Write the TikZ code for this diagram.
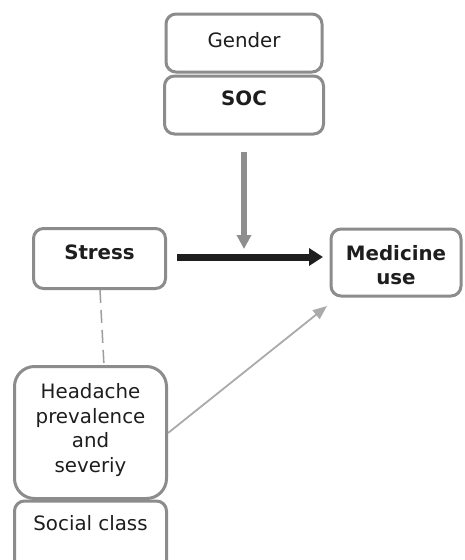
\documentclass[tikz,border=0pt]{standalone}
\usepackage{fontspec}
\setmainfont{DejaVu Sans}
\usetikzlibrary{arrows.meta}
\definecolor{boxgray}{HTML}{8C8C8C}
\definecolor{txt}{HTML}{1E1E1E}
\definecolor{arrgray}{HTML}{8E8E8E}
\definecolor{lightarr}{HTML}{AAAAAA}
\begin{document}
\begin{tikzpicture}[x=1pt,y=-1pt,
  box/.style={draw=boxgray,line width=3pt,rounded corners=10pt,minimum width=#1,inner sep=0pt},
  lbl/.style={text=txt,font=\fontsize{19.8}{24.5}\selectfont,align=center,inner sep=0pt},
  blbl/.style={lbl,font=\fontsize{19.8}{24.5}\selectfont\bfseries}]
\useasboundingbox (0,0) rectangle (464,560);
\clip (0,0) rectangle (464,560);
\fill[white] (0,0) rectangle (464,560);
% boxes
\node[box=156pt,minimum height=58pt] (gender) at (244,43) {};
\node[box=159pt,minimum height=58pt] (soc) at (244,105) {};
\node[box=132pt,minimum height=60pt] (stress) at (99.5,258.5) {};
\node[box=130pt,minimum height=67pt] (med) at (396,262.5) {};
\node[box=152pt,minimum height=132pt,rounded corners=20pt] (head) at (90.5,432.5) {};
\node[box=152pt,minimum height=90pt] (social) at (90.5,546) {};
% texts
\node[lbl] (tgender) at (244,40) {Gender};
\node[blbl] (tsoc) at (244,98) {SOC};
\node[blbl] (tstress) at (99.5,252) {Stress};
\node[blbl] (tmed) at (396,265) {Medicine\\use};
\node[lbl] (thead) at (90.5,430) {Headache\\prevalence\\and\\severiy};
\node[lbl] (tsocial) at (90.5,523) {Social class};
% connectors
\coordinate (vtop) at (244,152);
\coordinate (vbot) at (244,249);
\draw[arrgray,line width=6pt,-{Triangle[width=14pt,length=14pt]}] (vtop) -- (vbot);
\coordinate (hs) at (177,257);
\coordinate (he) at (323,257);
\draw[black!88,line width=7pt,-{Triangle[width=17pt,length=14pt]}] (hs) -- (he);
\coordinate (as) at (168,433);
\coordinate (ae) at (327,306);
\draw[lightarr,line width=1.8pt,-{Triangle[width=11pt,length=14pt]}] (as) -- (ae);
\coordinate (ds) at (100,290);
\coordinate (de) at (104,366);
\draw[boxgray!85,line width=1.5pt,dash pattern=on 13pt off 7pt] (ds) -- (de);
\end{tikzpicture}
\end{document}
